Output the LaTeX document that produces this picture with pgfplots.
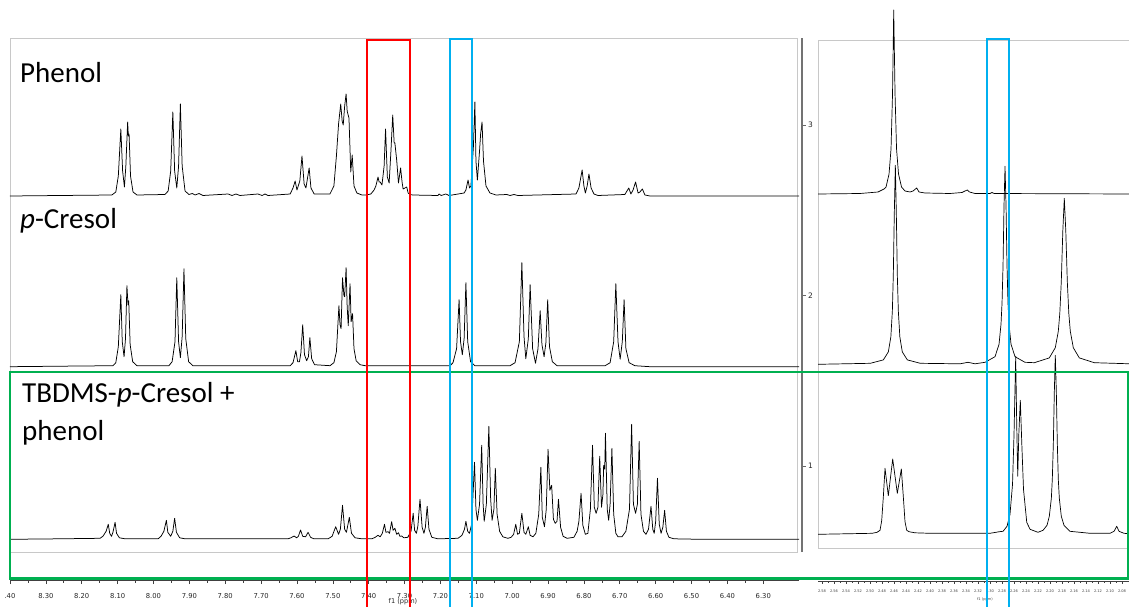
\documentclass[border=0pt]{standalone}
\usepackage{pgfplots}
\pgfplotsset{compat=1.18}
\usepackage{pgfplotstable}
\usepackage{fontspec}
\setmainfont{Carlito}
\newfontfamily\tickfont{DejaVu Sans}
\definecolor{boxred}{HTML}{FF0000}
\definecolor{boxblue}{HTML}{00B0F0}
\definecolor{boxgreen}{HTML}{00B050}
\definecolor{framegray}{HTML}{C8C8C8}

% ---------- left panel (aromatic region), heights above each baseline ----------
\pgfplotstableread{
ppm h
8.400 0
8.261 0.5
8.116 1
8.105 4
8.098 20
8.091 67
8.086 25
8.081 9
8.077 30
8.072 74
8.070 60
8.068 62
8.064 20
8.057 4
8.046 1
7.968 1.5
7.959 5
7.952 25
7.946 84
7.941 25
7.935 8
7.930 30
7.925 92
7.920 30
7.912 5
7.901 1.5
7.892 2.5
7.884 1
7.873 2.5
7.862 0.5
7.792 2
7.781 0.5
7.770 2
7.759 0.5
7.709 2
7.697 0.5
7.689 2
7.681 0.5
7.619 2
7.611 8
7.605 15
7.600 6
7.592 15
7.586 40
7.580 12
7.575 8
7.566 28
7.561 8
7.552 2
7.508 2
7.497 10
7.490 40
7.484 72
7.478 92
7.474 75
7.471 71
7.467 90
7.463 102
7.460 85
7.458 82
7.455 78
7.450 24
7.446 41
7.441 10
7.433 3
7.419 1
7.407 1
7.394 2
7.385 6
7.380 10
7.374 19
7.371 14
7.368 14
7.363 11
7.357 30
7.353 67
7.348 19
7.343 13
7.338 45
7.333 81
7.329 53
7.327 53
7.322 36
7.317 13
7.311 28
7.307 14
7.304 7
7.294 9
7.290 3
7.285 1.5
7.277 1
7.207 0.5
7.204 2
7.198 0.5
7.185 2
7.176 0.5
7.134 3
7.129 6
7.123 16
7.119 8
7.115 10
7.108 50
7.104 94
7.101 35
7.097 16
7.091 45
7.088 62
7.084 74
7.080 35
7.073 10
7.062 3
7.045 1
7.015 1.5
7.006 0.5
6.995 1.5
6.984 0.5
6.822 2
6.814 8
6.805 26
6.800 10
6.796 3
6.791 10
6.786 22
6.780 8
6.772 2
6.761 0.5
6.686 1.5
6.680 5
6.675 8
6.669 2
6.663 6
6.656 14
6.649 3
6.644 4
6.637 7
6.630 1
6.616 0
6.200 0
}\phenolL

\pgfplotstableread{
ppm h
8.400 0
8.261 0.5
8.113 1
8.105 4
8.098 20
8.091 72
8.087 25
8.082 10
8.078 28
8.074 81
8.071 62
8.069 66
8.065 22
8.058 5
8.046 1
7.957 1
7.948 5
7.940 25
7.935 89
7.930 25
7.925 9
7.920 30
7.915 98
7.910 28
7.902 5
7.890 1
7.619 1
7.611 4
7.603 16
7.598 5
7.593 5
7.589 14
7.584 42
7.579 12
7.573 6
7.568 10
7.564 29
7.559 8
7.551 2
7.508 1
7.497 4
7.490 15
7.483 61
7.480 42
7.477 38
7.473 89
7.469 71
7.467 70
7.463 99
7.460 60
7.457 41
7.452 83
7.449 45
7.445 53
7.441 18
7.435 6
7.424 2
7.410 1
7.173 1
7.165 4
7.155 18
7.148 67
7.144 25
7.139 12
7.134 28
7.129 84
7.124 25
7.116 5
7.104 1
7.006 1
6.992 4
6.980 25
6.973 104
6.967 30
6.962 8
6.955 28
6.950 82
6.943 18
6.935 3.5
6.928 18
6.922 56
6.917 22
6.911 10
6.906 24
6.901 67
6.896 20
6.888 5
6.875 1
6.741 1
6.727 4
6.717 25
6.711 83
6.705 25
6.699 7.5
6.693 25
6.688 67
6.683 18
6.674 4
6.658 1
6.616 0
6.200 0
}\cresolL

\pgfplotstableread{
ppm h
8.400 0
8.261 0.5
8.149 1
8.141 3
8.132 8
8.126 15
8.122 6
8.117 3
8.113 7
8.107 17
8.103 6
8.095 1.5
8.079 0.5
7.987 0.5
7.979 3
7.971 8
7.964 19
7.960 7
7.952 3
7.946 8
7.941 21
7.936 7
7.927 1.5
7.912 0.5
7.625 0.5
7.617 1.5
7.608 3.3
7.601 1.5
7.596 3
7.590 9.3
7.584 3
7.576 2.5
7.569 7
7.562 2
7.553 0.5
7.513 0.5
7.502 3
7.492 12.6
7.484 5
7.479 10
7.473 34
7.467 10
7.462 7
7.454 22
7.448 6
7.438 1.5
7.419 0.5
7.391 0.5
7.382 2
7.374 4
7.368 2.5
7.362 6
7.356 15
7.352 7
7.346 7.6
7.342 6
7.336 17.6
7.332 9
7.327 11
7.322 5
7.317 6.6
7.313 3
7.308 3.3
7.302 1.5
7.291 2
7.282 8
7.276 26
7.272 9
7.267 6
7.263 13
7.257 40
7.251 12
7.246 6
7.242 12
7.237 33
7.232 10
7.224 2
7.207 0.5
7.151 1
7.140 4
7.133 10
7.129 18
7.124 8
7.119 6
7.113 15
7.105 77
7.101 30
7.097 19
7.091 35
7.085 94
7.081 35
7.078 18
7.072 35
7.065 113
7.060 40
7.056 19
7.051 30
7.047 71
7.042 25
7.035 8
7.026 2.5
7.012 1
7.003 2
6.996 5
6.990 15
6.985 5
6.980 6
6.973 26
6.967 7
6.962 5
6.955 12.6
6.950 4
6.942 2.5
6.934 6
6.926 25
6.920 72
6.916 22
6.910 12.6
6.905 30
6.900 90
6.895 49
6.890 54
6.885 20
6.880 16
6.875 18
6.871 40
6.865 12
6.858 3
6.847 1
6.828 2
6.819 8
6.814 18
6.808 46
6.803 14
6.796 5
6.789 6
6.782 30
6.776 94
6.771 32
6.766 26
6.761 32
6.756 83
6.751 32
6.747 45
6.745 74
6.742 70
6.740 106
6.735 30
6.731 19
6.727 35
6.722 91
6.717 25
6.711 6
6.705 2.5
6.694 2.5
6.683 8
6.673 30
6.667 115
6.662 35
6.656 26
6.651 35
6.646 98
6.641 25
6.634 8
6.627 5
6.620 10
6.613 33
6.608 10
6.604 6
6.600 18
6.595 61
6.590 15
6.585 6
6.580 12
6.575 29
6.570 8
6.563 2
6.549 0.5
6.476 0
6.200 0
}\tbdmsL

% ---------- right panel (methyl region) ----------
\pgfplotstableread{
ppm h
2.5867 0
2.5167 0.5
2.4867 2
2.4767 5
2.4733 7
2.4683 20
2.4650 45
2.4625 100
2.4605 184
2.4583 100
2.4558 45
2.4525 20
2.4475 7
2.4417 3
2.4333 2
2.4283 3
2.4222 6
2.4183 2
2.4083 1
2.3667 0.5
2.3467 1.5
2.3417 3
2.3378 4
2.3342 2
2.3250 0.5
2.3000 0.5
2.2967 1.5
2.2933 0.5
2.0667 0
}\phenolR

\pgfplotstableread{
ppm h
2.5867 0
2.4995 1
2.4778 4.4
2.4695 12.4
2.4653 27.4
2.4628 53
2.4612 89
2.4595 152
2.4578 199
2.4562 152
2.4545 89
2.4528 53
2.4503 27.4
2.4462 12.4
2.4378 4.4
2.4162 1
2.3500 0.5
2.3367 2
2.3250 0.5
2.3083 2
2.2917 7.6
2.2850 20
2.2817 40
2.2800 61
2.2783 99
2.2767 158
2.2750 198
2.2733 158
2.2717 99
2.2700 61
2.2683 40
2.2650 20
2.2583 7.6
2.2417 2
2.2262 1.6
2.2012 6.4
2.1912 16.6
2.1862 33
2.1837 51
2.1812 83
2.1787 133
2.1762 166
2.1737 133
2.1712 83
2.1687 51
2.1662 33
2.1612 16.6
2.1512 6.4
2.1262 1.6
2.0667 0.5
}\cresolR

\pgfplotstableread{
ppm h
2.5867 0
2.4967 1
2.4883 2
2.4833 4
2.4805 14
2.4778 37.6
2.4750 66
2.4695 38.6
2.4622 75.3
2.4545 41
2.4478 65.3
2.4445 37.6
2.4417 12.6
2.4388 4
2.4350 2.6
2.4250 1.5
2.4000 1
2.3500 1
2.3000 1
2.2900 2
2.2845 2.6
2.2783 3
2.2717 8
2.2667 20
2.2625 50
2.2600 100
2.2572 178
2.2555 110
2.2538 58
2.2520 100
2.2495 134
2.2470 90
2.2442 45
2.2388 12
2.2333 5
2.2200 2
2.2117 4
2.2050 9
2.2012 18
2.1978 36
2.1962 55
2.1945 90
2.1928 143
2.1912 179
2.1895 143
2.1878 90
2.1862 55
2.1845 36
2.1812 18
2.1767 9
2.1667 3
2.1333 1
2.1000 1
2.0933 3
2.0888 8
2.0850 3
2.0767 1
2.0667 0.5
}\tbdmsR

\pgfplotsset{
  specframe/.style={scale only axis, anchor=south west, x dir=reverse,
    xtick=\empty, ytick=\empty, clip=false,
    axis line style={draw=framegray, line width=0.9pt}},
  ppmaxis/.style={scale only axis, anchor=south west, x dir=reverse,
    height=10pt, ymin=0, ymax=1,
    axis x line*=bottom, axis y line=none, tick align=outside,
    x axis line style={draw=black!75, line width=0.8pt},
    tick style={draw=black!75, line width=0.6pt},
    minor x tick num=1},
  spec/.style={black, line width=0.75pt, line join=round},
}

\begin{document}
\begin{tikzpicture}
\useasboundingbox (0pt,0pt) rectangle (1129pt,606pt);
\clip (0pt,0pt) rectangle (1129pt,606pt);

% left spectra
\begin{axis}[specframe, at={(10pt,54pt)}, width=787pt, height=514pt,
  xmin=6.206, xmax=8.40, ymin=0, ymax=514]
\addplot[spec] table[x=ppm, y expr=\thisrow{h}+356] {\phenolL};
\addplot[spec] table[x=ppm, y expr=\thisrow{h}+185.3] {\cresolL};
\addplot[spec] table[x=ppm, y expr=\thisrow{h}+12.7] {\tbdmsL};
\end{axis}

% left ppm axis
\begin{axis}[ppmaxis, at={(10pt,26pt)}, width=789pt, xmin=6.2004, xmax=8.40,
  major tick length=4pt, minor tick length=2.5pt,
  xtick={6.3,6.4,6.5,6.6,6.7,6.8,6.9,7.0,7.1,7.2,7.3,7.4,7.5,7.6,7.7,7.8,7.9,8.0,8.1,8.2,8.3,8.4},
  xticklabels={6.30,6.40,6.50,6.60,6.70,6.80,6.90,7.00,7.10,7.20,7.30,7.40,7.50,7.60,7.70,7.80,7.90,8.00,8.10,8.20,8.30,.40},
  xticklabel style={font=\tickfont\fontsize{6.8}{8}\selectfont, text=black!85, yshift=-5.5pt}]
\end{axis}

% stack index axis
\begin{axis}[scale only axis, anchor=south west, at={(801pt,54pt)}, width=1pt, height=514pt,
  xmin=0, xmax=1, ymin=0.4956, ymax=3.510,
  axis y line*=right, axis x line=none, ytick={1,2,3},
  yticklabels={1,2,3},
  tick align=outside, major tick length=3.5pt,
  y axis line style={draw=black!55, line width=1.8pt},
  tick style={draw=black!60, line width=0.6pt},
  yticklabel style={font=\tickfont\fontsize{7.5}{9}\selectfont, text=black!85, xshift=-1pt}]
\end{axis}

% right spectra
\begin{axis}[specframe, at={(818pt,58pt)}, width=312pt, height=508pt,
  xmin=2.0667, xmax=2.5867, ymin=0, ymax=508]
\addplot[spec, line width=0.7pt] table[x=ppm, y expr=\thisrow{h}+354] {\phenolR};
\addplot[spec, line width=0.7pt] table[x=ppm, y expr=\thisrow{h}+183.7] {\cresolR};
\addplot[spec, line width=0.7pt] table[x=ppm, y expr=\thisrow{h}+13.7] {\tbdmsR};
\end{axis}

% right ppm axis
\begin{axis}[ppmaxis, at={(818pt,25pt)}, width=312pt, xmin=2.0667, xmax=2.5867,
  major tick length=2.5pt, minor tick length=1.5pt,
  xtick={2.08,2.10,2.12,2.14,2.16,2.18,2.20,2.22,2.24,2.26,2.28,2.30,2.32,2.34,2.36,2.38,2.40,2.42,2.44,2.46,2.48,2.50,2.52,2.54,2.56,2.58},
  xticklabel style={font=\tickfont\fontsize{3.6}{4}\selectfont, text=black!75, yshift=-2.5pt,
    /pgf/number format/fixed, /pgf/number format/fixed zerofill, /pgf/number format/precision=2,
    /pgf/number format/assume math mode=true}]
\end{axis}

\begin{scope}[x=1pt, y=1pt]
% axis titles
\node[anchor=south, inner sep=0pt, font=\tickfont\fontsize{6.6}{8}\selectfont, text=black!85] at (403,0.6) {f1 (ppm)};
\node[anchor=north, inner sep=0pt, font=\tickfont\fontsize{3.6}{4}\selectfont, text=black!75] at (985,8.5) {f1 (ppm)};

% sample names
\node[anchor=base west, inner sep=0pt, font=\fontsize{29}{32}\selectfont] at (20,523) {Phenol};
\node[anchor=base west, inner sep=0pt, font=\fontsize{29}{32}\selectfont] at (20,377) {\textit{p}-Cresol};
\node[anchor=base west, inner sep=0pt, font=\fontsize{29}{32}\selectfont] at (22,204) {TBDMS-\textit{p}-Cresol +};
\node[anchor=base west, inner sep=0pt, font=\fontsize{29}{32}\selectfont] at (22,166) {phenol};

% highlight boxes
\draw[boxgreen, line width=2.8pt] (10,234) rectangle (1128,27.5);
\draw[boxred, line width=2.8pt] (367,566) rectangle (410,-10);
\draw[boxblue, line width=2.8pt] (450,567) rectangle (472,-10);
\draw[boxblue, line width=2.8pt] (987,567) rectangle (1009,-10);
\end{scope}
\end{tikzpicture}
\end{document}
